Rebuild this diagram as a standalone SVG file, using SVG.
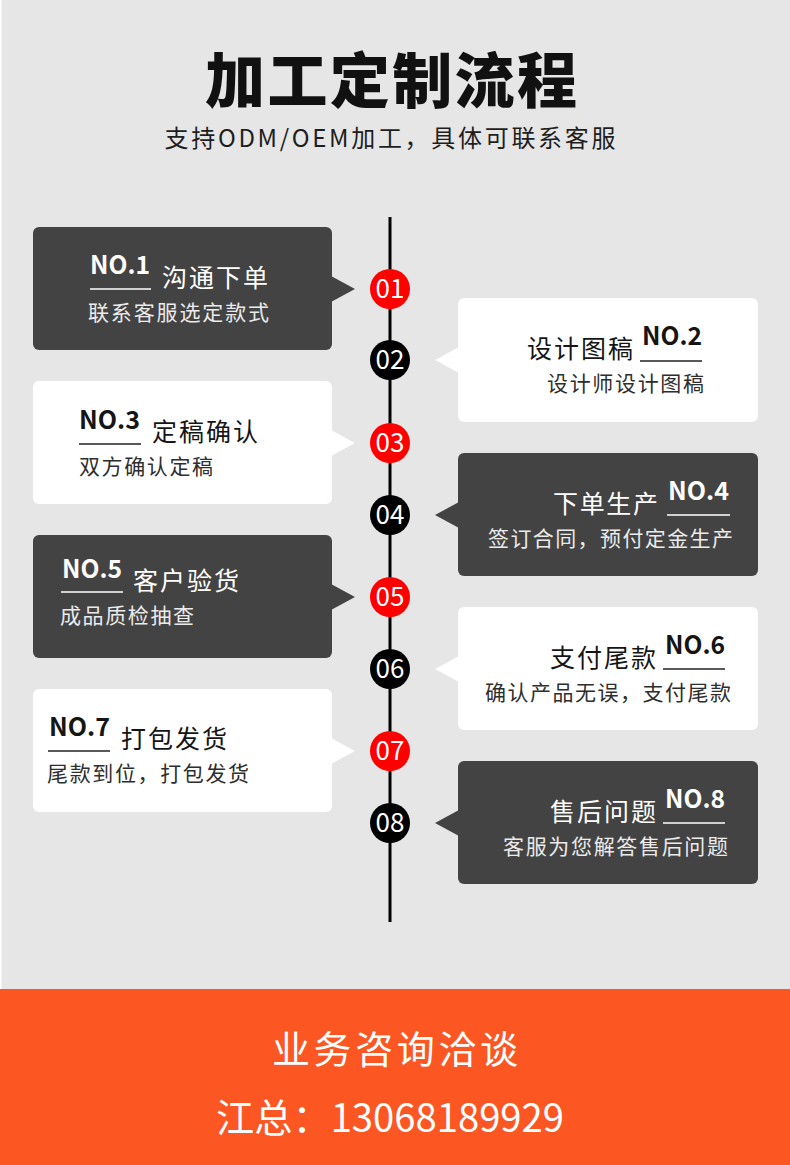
<svg xmlns="http://www.w3.org/2000/svg" width="790" height="1165" viewBox="0 0 790 1165">
<style>
.cjk{font-family:"Noto Sans CJK SC","Noto Sans",sans-serif}
.no{font-family:"Noto Sans CJK SC","Noto Sans",sans-serif;font-size:25px;font-weight:bold}
.tt{font-family:"Noto Sans CJK SC",sans-serif;font-size:25px}
.st{font-family:"Noto Sans CJK SC",sans-serif;font-size:21px}
.dark .box{fill:#434343}
.light .box{fill:#ffffff}
.dark .no,.dark .tt{fill:#ffffff}
.dark .st{fill:#ebebeb}
.light .no,.light .tt{fill:#151515}
.light .st{fill:#2e2e2e}
.dark .ul{stroke:#ffffff}
.light .ul{stroke:#222222}
.ul{stroke-width:1.5}
.num{font-family:"Noto Sans CJK SC","Noto Sans",sans-serif;font-size:26px;fill:#ffffff;text-anchor:middle}
.red{fill:#ff0000}
.blk{fill:#000000}
</style>
<rect x="0" y="0" width="790" height="1165" fill="#e6e6e6"/>
<rect x="0" y="0" width="1.5" height="989" fill="#ffffff"/>
<g id="header">
<text x="391" y="103" class="cjk" font-size="60" font-weight="900" fill="#111" text-anchor="middle" textLength="372" lengthAdjust="spacing">加工定制流程</text>
<text x="390" y="147" class="cjk" font-size="24" fill="#1e1e1e" text-anchor="middle" textLength="451" lengthAdjust="spacing">支持ODM/OEM加工，具体可联系客服</text>
</g>
<g id="connectors">
<line x1="390" y1="217" x2="390" y2="922" stroke="#000" stroke-width="3"/>
</g>
<g id="step1" class="dark">
<rect class="box" x="33" y="227" width="299" height="123" rx="6"/>
<polygon class="box" points="331,276 355,289 331,302"/>
<text class="no" x="90" y="274" textLength="60" lengthAdjust="spacingAndGlyphs">NO.1</text>
<line class="ul" x1="90" y1="289" x2="151" y2="289"/>
<text class="tt" x="162" y="287" textLength="106" lengthAdjust="spacing">沟通下单</text>
<text class="st" x="88" y="320" textLength="181" lengthAdjust="spacing">联系客服选定款式</text>
<circle class="red" cx="390" cy="289" r="20"/>
<text class="num" x="390" y="298">01</text>
</g>
<g id="step2" class="light">
<rect class="box" x="458" y="298" width="300" height="124" rx="6"/>
<polygon class="box" points="459,347 435,360 459,373"/>
<text class="no" x="642" y="345" textLength="60" lengthAdjust="spacingAndGlyphs">NO.2</text>
<line class="ul" x1="640" y1="361" x2="702" y2="361"/>
<text class="tt" x="527" y="358" textLength="106" lengthAdjust="spacing">设计图稿</text>
<text class="st" x="547" y="391" textLength="157" lengthAdjust="spacing">设计师设计图稿</text>
<circle class="blk" cx="390" cy="360" r="20"/>
<text class="num" x="390" y="369">02</text>
</g>
<g id="step3" class="light">
<rect class="box" x="33" y="381" width="299" height="123" rx="6"/>
<polygon class="box" points="331,430 355,443 331,456"/>
<text class="no" x="79" y="429" textLength="61" lengthAdjust="spacingAndGlyphs">NO.3</text>
<line class="ul" x1="79" y1="444" x2="141" y2="444"/>
<text class="tt" x="152" y="441" textLength="106" lengthAdjust="spacing">定稿确认</text>
<text class="st" x="79" y="474" textLength="134" lengthAdjust="spacing">双方确认定稿</text>
<circle class="red" cx="390" cy="443" r="20"/>
<text class="num" x="390" y="452">03</text>
</g>
<g id="step4" class="dark">
<rect class="box" x="458" y="453" width="300" height="123" rx="6"/>
<polygon class="box" points="459,502 435,515 459,528"/>
<text class="no" x="668" y="500" textLength="61" lengthAdjust="spacingAndGlyphs">NO.4</text>
<line class="ul" x1="667" y1="515" x2="730" y2="515"/>
<text class="tt" x="553" y="513" textLength="105" lengthAdjust="spacing">下单生产</text>
<text class="st" x="488" y="546" textLength="245" lengthAdjust="spacing">签订合同，预付定金生产</text>
<circle class="blk" cx="390" cy="515" r="20"/>
<text class="num" x="390" y="524">04</text>
</g>
<g id="step5" class="dark">
<rect class="box" x="33" y="535" width="299" height="123" rx="6"/>
<polygon class="box" points="331,584 355,597 331,610"/>
<text class="no" x="62" y="578" textLength="60" lengthAdjust="spacingAndGlyphs">NO.5</text>
<line class="ul" x1="61" y1="592" x2="123" y2="592"/>
<text class="tt" x="133" y="590" textLength="106" lengthAdjust="spacing">客户验货</text>
<text class="st" x="60" y="623" textLength="134" lengthAdjust="spacing">成品质检抽查</text>
<circle class="red" cx="390" cy="597" r="20"/>
<text class="num" x="390" y="606">05</text>
</g>
<g id="step6" class="light">
<rect class="box" x="458" y="607" width="300" height="123" rx="6"/>
<polygon class="box" points="459,656 435,669 459,682"/>
<text class="no" x="665" y="654" textLength="60" lengthAdjust="spacingAndGlyphs">NO.6</text>
<line class="ul" x1="663" y1="669" x2="725" y2="669"/>
<text class="tt" x="550" y="667" textLength="106" lengthAdjust="spacing">支付尾款</text>
<text class="st" x="485" y="700" textLength="246" lengthAdjust="spacing">确认产品无误，支付尾款</text>
<circle class="blk" cx="390" cy="669" r="20"/>
<text class="num" x="390" y="678">06</text>
</g>
<g id="step7" class="light">
<rect class="box" x="33" y="689" width="299" height="123" rx="6"/>
<polygon class="box" points="331,738 355,751 331,764"/>
<text class="no" x="49" y="736" textLength="61" lengthAdjust="spacingAndGlyphs">NO.7</text>
<line class="ul" x1="48" y1="751" x2="110" y2="751"/>
<text class="tt" x="121" y="748" textLength="106" lengthAdjust="spacing">打包发货</text>
<text class="st" x="47" y="781" textLength="202" lengthAdjust="spacing">尾款到位，打包发货</text>
<circle class="red" cx="390" cy="751" r="20"/>
<text class="num" x="390" y="760">07</text>
</g>
<g id="step8" class="dark">
<rect class="box" x="458" y="761" width="300" height="123" rx="6"/>
<polygon class="box" points="459,810 435,823 459,836"/>
<text class="no" x="665" y="808" textLength="60" lengthAdjust="spacingAndGlyphs">NO.8</text>
<line class="ul" x1="663" y1="823" x2="725" y2="823"/>
<text class="tt" x="550" y="821" textLength="106" lengthAdjust="spacing">售后问题</text>
<text class="st" x="503" y="854" textLength="225" lengthAdjust="spacing">客服为您解答售后问题</text>
<circle class="blk" cx="390" cy="823" r="20"/>
<text class="num" x="390" y="832">08</text>
</g>
<g id="footer">
<rect x="0" y="989" width="790" height="176" fill="#fc5623"/>
<text x="272" y="1063" class="cjk" font-size="38" fill="#ffffff" textLength="246" lengthAdjust="spacing">业务咨询洽谈</text>
<text x="216" y="1132" class="cjk" font-size="39" fill="#ffffff" textLength="348" lengthAdjust="spacingAndGlyphs">江总：13068189929</text>
</g>
</svg>
